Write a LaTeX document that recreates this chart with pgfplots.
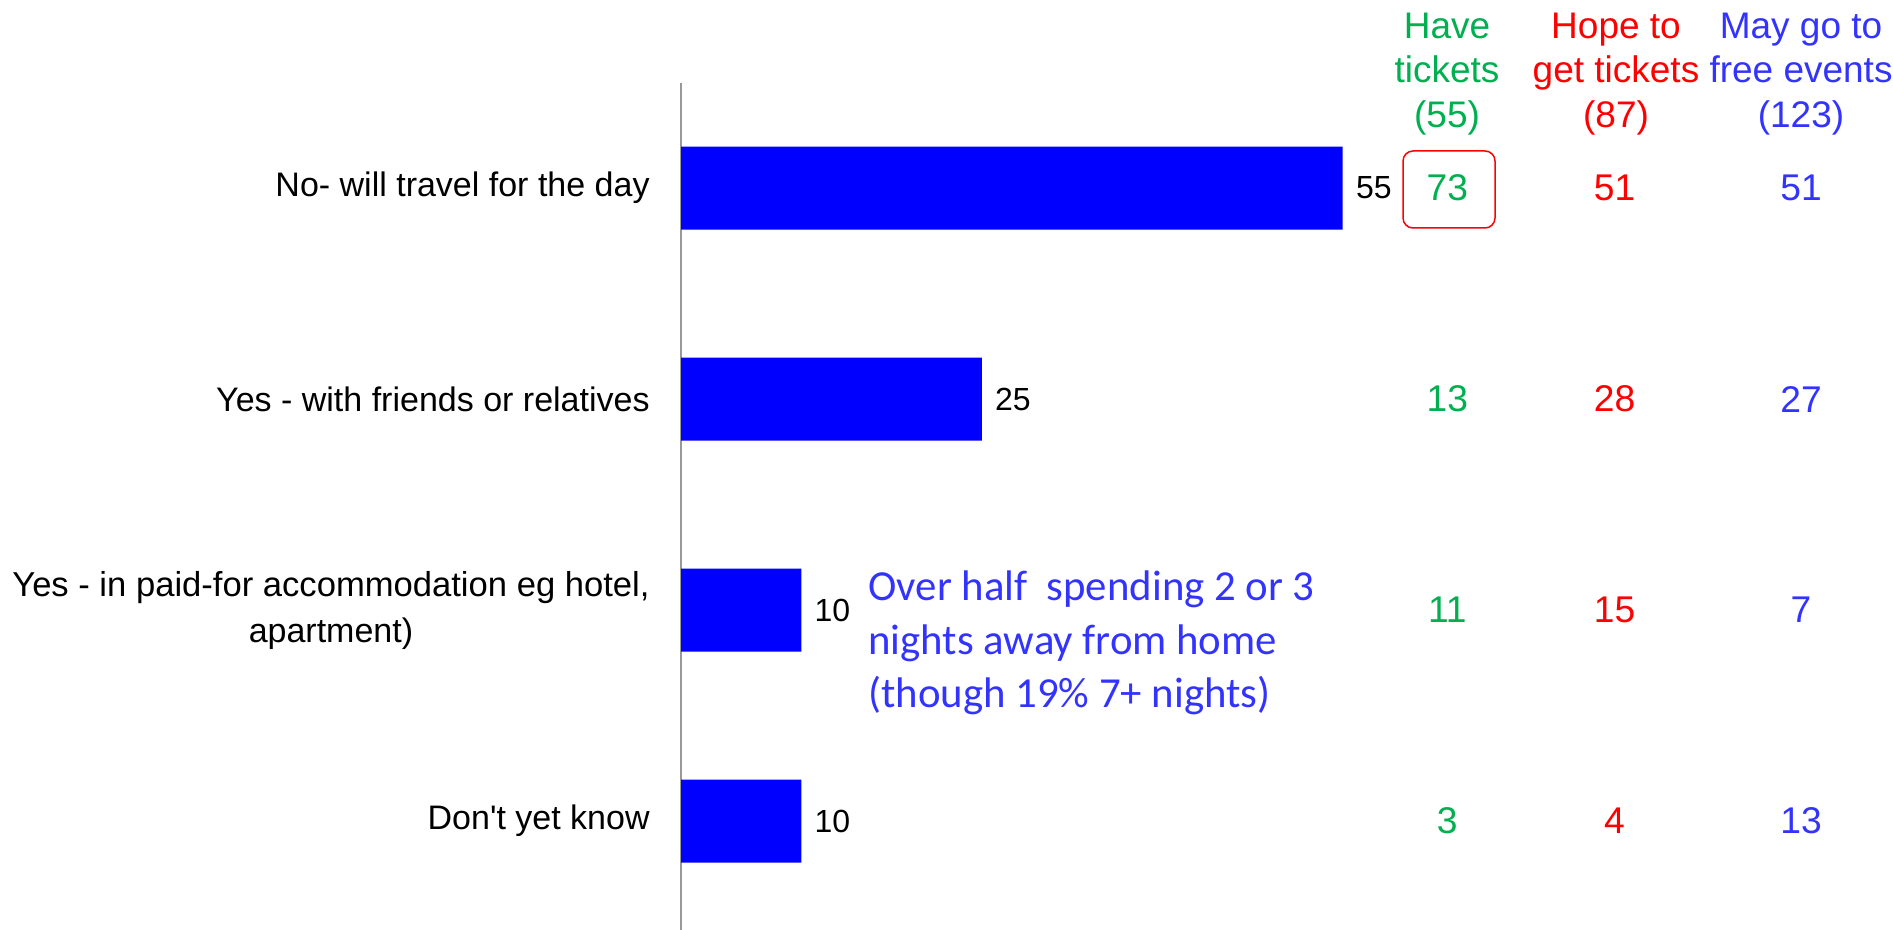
\documentclass[border=0pt]{standalone}
\usepackage{fontspec}
\setmainfont{Liberation Sans}
\newfontfamily\arialplain{Liberation Sans}
\newfontfamily\calibri{Carlito}
\usepackage{pgfplots}
\pgfplotsset{compat=1.18}
\definecolor{barblue}{RGB}{0,0,255}
\definecolor{tgreen}{RGB}{0,176,80}
\definecolor{tred}{RGB}{255,0,0}
\definecolor{tblue}{RGB}{51,51,255}
\begin{document}
\begin{tikzpicture}
\useasboundingbox (0,0) rectangle (946.5pt,-465pt);
\begin{axis}[
  at={(340.5pt,-463.25pt)}, anchor=south west,
  scale only axis, width=601.5pt, height=422pt,
  xmin=0, xmax=100, ymin=-0.5, ymax=3.5, y dir=reverse,
  axis x line=none, axis y line=left,
  y axis line style={-, draw=gray!80, line width=1pt},
  ytick={0,1,2,3},
  yticklabels={No- will travel for the day, Yes - with friends or relatives, {\fontsize{17.3}{23}\selectfont Yes - in paid-for accommodation eg hotel,\\apartment)}, {Don{\arialplain '}t yet know}},
  major tick length=0pt,
  yticklabel style={align=center, font=\fontsize{17}{23}\selectfont, inner sep=0pt, xshift=-15.5pt},
  clip=false,
  /pgf/number format/assume math mode=true,
]
\addplot[xbar, fill=barblue, draw=none, bar width=41.5pt,
  point meta=x, nodes near coords,
  nodes near coords style={anchor=west, inner sep=0pt, xshift=6.5pt, text=black, font=\fontsize{16}{18}\selectfont}]
  coordinates {(55,0) (25,1) (10,2) (10,3)};
\addplot[draw=none, mark=none, point meta=explicit symbolic, nodes near coords,
  nodes near coords style={anchor=center, inner sep=0pt, text=tgreen, font=\fontsize{18.6}{20}\selectfont}]
  coordinates {(63.7,0) [73] (63.7,1) [13] (63.7,2) [11] (63.7,3) [3]};
\addplot[draw=none, mark=none, point meta=explicit symbolic, nodes near coords,
  nodes near coords style={anchor=center, inner sep=0pt, text=tred, font=\fontsize{18.6}{20}\selectfont}]
  coordinates {(77.6,0) [51] (77.6,1) [28] (77.6,2) [15] (77.6,3) [4]};
\addplot[draw=none, mark=none, point meta=explicit symbolic, nodes near coords,
  nodes near coords style={anchor=center, inner sep=0pt, text=tblue, font=\fontsize{18.6}{20}\selectfont}]
  coordinates {(93.1,0) [51] (93.1,1) [27] (93.1,2) [7] (93.1,3) [13]};
\end{axis}
\draw[gray!80, line width=1pt] (340.5pt,-463pt) -- (340.5pt,-465pt);
% headers
\begin{scope}[every node/.style={anchor=base, inner sep=0pt, font=\fontsize{18.5}{20}\selectfont}]
\node[text=tgreen] at (723.5pt,-19.5pt) {Have};
\node[text=tgreen] at (723.5pt,-41.5pt) {tickets};
\node[text=tgreen] at (723.5pt,-64pt) {(55)};
\node[text=tred] at (808pt,-19.5pt) {Hope to};
\node[text=tred] at (808pt,-41.5pt) {get tickets};
\node[text=tred] at (808pt,-64pt) {(87)};
\node[text=tblue] at (900.5pt,-19.5pt) {May go to};
\node[text=tblue] at (900.5pt,-41.5pt) {free events};
\node[text=tblue] at (900.5pt,-64pt) {(123)};
\end{scope}
\draw[tred, line width=0.75pt, rounded corners=5pt] (701.5pt,-75.5pt) rectangle (747.5pt,-114pt);
\begin{scope}[every node/.style={anchor=base west, inner sep=0pt, text=tblue, font=\calibri\fontsize{21.4}{24}\selectfont}]
\node at (434pt,-300pt) {Over half\ \ spending 2 or 3};
\node at (434pt,-327pt) {nights away from home};
\node at (434pt,-353.5pt) {(though 19\% 7+ nights)};
\end{scope}
\end{tikzpicture}
\end{document}
